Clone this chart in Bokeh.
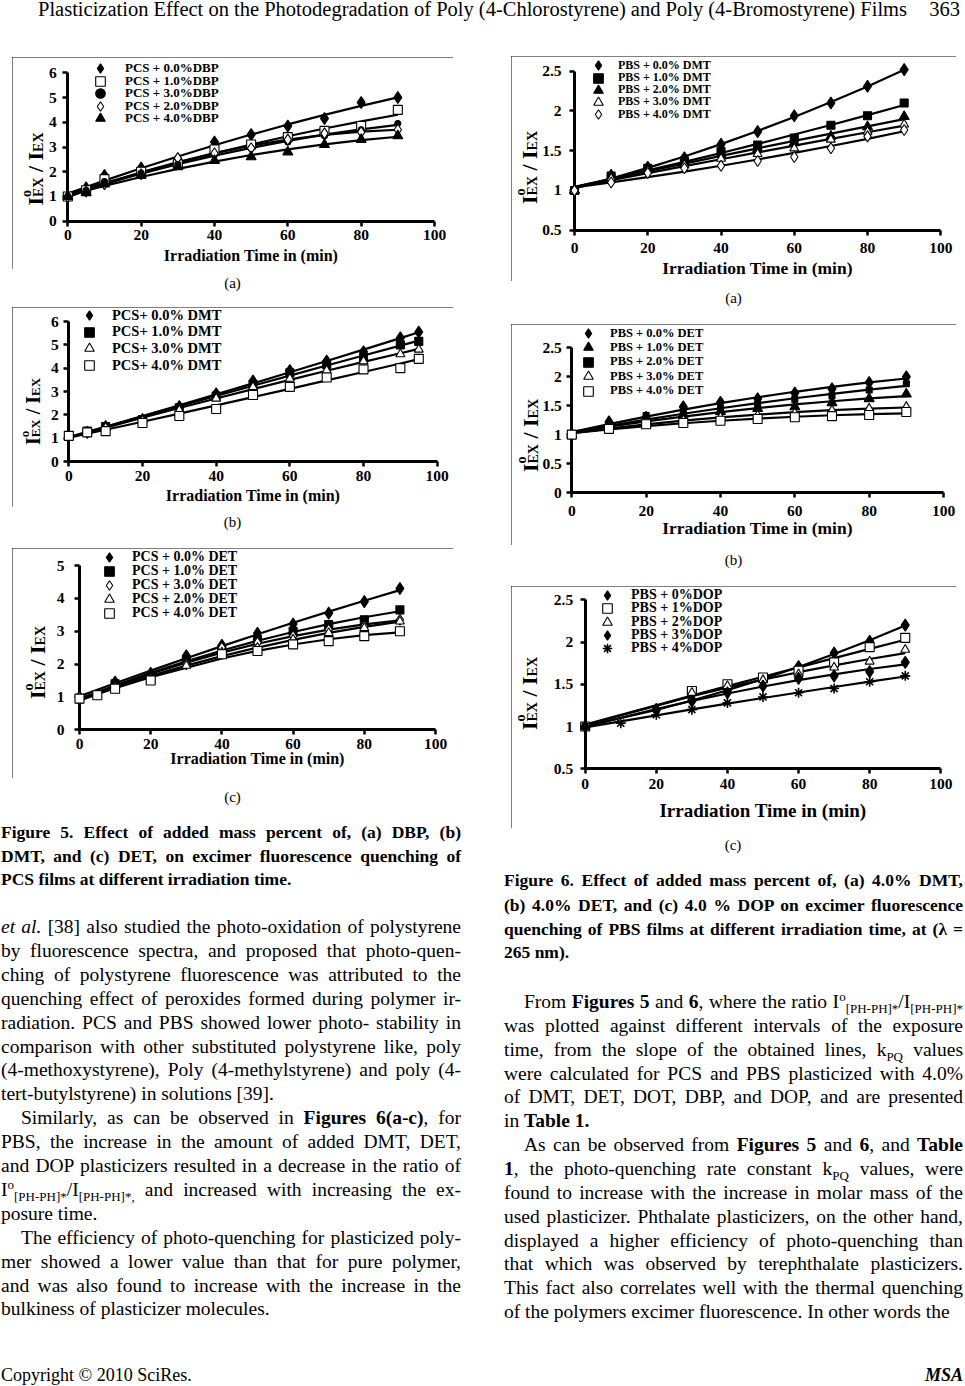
import numpy as np
from bokeh.plotting import figure
from bokeh.models import Div, Label, FixedTicker, Legend, LegendItem
from bokeh.layouts import column, row
from bokeh.embed import file_html
from bokeh.resources import INLINE

FONT = "Liberation Serif"

# ------------------------------------------------------------------ data
# Figure 5(a): PCS + DBP
T_5A = [0, 5, 10, 20, 30, 40, 50, 60, 70, 80, 90]
PCS_DBP_0 = [1.0, 1.35, 1.85, 2.15, 2.5, 3.2, 3.5, 3.85, 4.15, 4.8, 5.0]
PCS_DBP_1 = [1.0, 1.25, 1.7, 2.0, 2.3, 2.9, 3.1, 3.4, 3.65, 3.85, 4.5]
PCS_DBP_3 = [1.0, 1.25, 1.6, 1.95, 2.3, 2.7, 2.95, 3.2, 3.45, 3.7, 3.95]
PCS_DBP_2 = [1.0, 1.2, 1.5, 1.9, 2.55, 2.75, 2.95, 3.3, 3.55, 3.6, 3.7]
PCS_DBP_4 = [1.0, 1.15, 1.5, 1.85, 2.2, 2.45, 2.6, 2.8, 3.1, 3.3, 3.45]
LABELS_5A = ["PCS + 0.0%DBP", "PCS + 1.0%DBP", "PCS + 3.0%DBP", "PCS + 2.0%DBP", "PCS + 4.0%DBP"]

# Figure 5(b): PCS + DMT
T_5B = [0, 5, 10, 20, 30, 40, 50, 60, 70, 80, 90, 95]
PCS_DMT_0 = [1.1, 1.25, 1.5, 1.8, 2.35, 2.9, 3.45, 3.9, 4.3, 4.7, 5.3, 5.55]
PCS_DMT_1 = [1.1, 1.3, 1.5, 1.8, 2.3, 2.8, 3.3, 3.8, 4.15, 4.45, 5.0, 5.15]
PCS_DMT_3 = [1.1, 1.25, 1.45, 1.75, 2.2, 2.7, 3.2, 3.55, 3.9, 4.3, 4.6, 4.8]
PCS_DMT_4 = [1.1, 1.25, 1.3, 1.65, 1.95, 2.25, 2.85, 3.2, 3.6, 3.95, 4.0, 4.4]
LABELS_5B = ["PCS+ 0.0% DMT", "PCS+ 1.0% DMT", "PCS+ 3.0% DMT", "PCS+ 4.0% DMT"]

# Figure 5(c): PCS + DET
T_5C = [0, 10, 20, 30, 40, 50, 60, 70, 80, 90]
T_5C_4 = [0, 5, 10, 20, 40, 50, 60, 70, 80, 90]
PCS_DET_0 = [1.0, 1.45, 1.72, 2.25, 2.57, 2.94, 3.22, 3.55, 3.9, 4.3]
PCS_DET_1 = [0.95, 1.4, 1.6, 2.1, 2.45, 2.75, 3.0, 3.2, 3.35, 3.65]
PCS_DET_3 = [1.0, 1.3, 1.55, 2.0, 2.5, 2.65, 2.85, 3.05, 3.15, 3.35]
PCS_DET_2 = [1.0, 1.3, 1.5, 1.95, 2.35, 2.5, 2.75, 2.95, 3.1, 3.3]
PCS_DET_4 = [0.95, 1.05, 1.25, 1.5, 2.3, 2.4, 2.6, 2.7, 2.85, 3.0]
LABELS_5C = ["PCS + 0.0% DET", "PCS + 1.0% DET", "PCS + 3.0% DET", "PCS + 2.0% DET", "PCS + 4.0% DET"]

# Figure 6(a): PBS + DMT
T_6 = [0, 10, 20, 30, 40, 50, 60, 70, 80, 90]
PBS_DMT_0 = [1.0, 1.19, 1.29, 1.41, 1.58, 1.74, 1.94, 2.1, 2.31, 2.52]
PBS_DMT_1 = [1.0, 1.18, 1.28, 1.37, 1.49, 1.57, 1.66, 1.82, 1.94, 2.1]
PBS_DMT_2 = [1.0, 1.17, 1.27, 1.35, 1.45, 1.52, 1.6, 1.68, 1.8, 1.93]
PBS_DMT_3 = [1.0, 1.15, 1.25, 1.32, 1.4, 1.46, 1.53, 1.64, 1.74, 1.83]
PBS_DMT_4 = [1.0, 1.1, 1.22, 1.28, 1.31, 1.37, 1.42, 1.53, 1.68, 1.76]
LABELS_6A = ["PBS + 0.0% DMT", "PBS + 1.0% DMT", "PBS + 2.0% DMT", "PBS + 3.0% DMT", "PBS + 4.0% DMT"]

# Figure 6(b): PBS + DET
PBS_DET_0 = [1.0, 1.22, 1.3, 1.48, 1.56, 1.62, 1.72, 1.79, 1.9, 2.0]
PBS_DET_1 = [1.0, 1.15, 1.25, 1.35, 1.4, 1.45, 1.48, 1.55, 1.62, 1.7]
PBS_DET_2 = [1.0, 1.15, 1.33, 1.39, 1.45, 1.52, 1.61, 1.67, 1.77, 1.88]
PBS_DET_3 = [1.0, 1.12, 1.2, 1.25, 1.3, 1.33, 1.37, 1.42, 1.45, 1.48]
PBS_DET_4 = [1.0, 1.1, 1.18, 1.2, 1.24, 1.27, 1.3, 1.32, 1.34, 1.39]
LABELS_6B = ["PBS + 0.0% DET", "PBS + 1.0% DET", "PBS + 2.0% DET", "PBS + 3.0% DET", "PBS + 4.0% DET"]

# Figure 6(c): PBS + DOP
T_6C_0 = [0, 20, 30, 40, 50, 60, 70, 80, 90]
T_6C_1 = [0, 30, 40, 50, 60, 70, 80, 90]
T_6C_4 = [0, 10, 20, 30, 40, 50, 60, 70, 80, 90]
PBS_DOP_0 = [1.0, 1.2, 1.32, 1.42, 1.55, 1.71, 1.87, 2.01, 2.2]
PBS_DOP_1 = [1.0, 1.42, 1.5, 1.58, 1.66, 1.76, 1.94, 2.05]
PBS_DOP_2 = [1.0, 1.4, 1.48, 1.55, 1.62, 1.7, 1.77, 1.91]
PBS_DOP_3 = [1.0, 1.2, 1.3, 1.4, 1.48, 1.57, 1.6, 1.65, 1.76]
PBS_DOP_4 = [1.0, 1.04, 1.14, 1.2, 1.28, 1.35, 1.4, 1.45, 1.53, 1.6]
LABELS_6C = ["PBS + 0%DOP", "PBS + 1%DOP", "PBS + 2%DOP", "PBS + 3%DOP", "PBS + 4%DOP"]

X_TICKS = [0, 20, 40, 60, 80, 100]
Y_TICKS_6 = [0, 1, 2, 3, 4, 5, 6]
Y_TICKS_5 = [0, 1, 2, 3, 4, 5]
Y_TICKS_05 = [0.5, 1.0, 1.5, 2.0, 2.5]
Y_LABELS_05 = ["0.5", "1", "1.5", "2", "2.5"]
Y_TICKS_0 = [0.0, 0.5, 1.0, 1.5, 2.0, 2.5]
Y_LABELS_0 = ["0", "0.5", "1", "1.5", "2", "2.5"]
X_TITLE = "Irradiation Time in (min)"

# ------------------------------------------------------------------ text
HEADER_TITLE = "Plasticization Effect on the Photodegradation of Poly (4-Chlorostyrene) and Poly (4-Bromostyrene) Films"
PAGE_NO = "363"
FOOTER_LEFT = "Copyright © 2010 SciRes."
FOOTER_RIGHT = "MSA"

SS = "font-size:13px;line-height:0;"
I_RATIO = ('I<sup style="%s">o</sup><sub style="%s">[PH-PH]*</sub>/I<sub style="%s">[PH-PH]*</sub>' % (SS, SS, SS))
I_RATIO_C = ('I<sup style="%s">o</sup><sub style="%s">[PH-PH]*</sub>/I<sub style="%s">[PH-PH]*,</sub>' % (SS, SS, SS))
K_PQ = 'k<sub style="%s">PQ</sub>' % SS

CAPTION_5 = [
    "Figure 5. Effect of added mass percent of, (a) DBP, (b)",
    "DMT, and (c) DET, on excimer fluorescence quenching of",
    "PCS films at different irradiation time.",
]
LEFT_PARAS = [
    ["<i>et al.</i> [38] also studied the photo-oxidation of polystyrene",
     "by fluorescence spectra, and proposed that photo-quen-",
     "ching of polystyrene fluorescence was attributed to the",
     "quenching effect of peroxides formed during polymer ir-",
     "radiation. PCS and PBS showed lower photo- stability in",
     "comparison with other substituted polystyrene like, poly",
     "(4-methoxystyrene), Poly (4-methylstyrene) and poly (4-",
     "tert-butylstyrene) in solutions [39]."],
    ["Similarly, as can be observed in <b>Figures 6(a-c)</b>, for",
     "PBS, the increase in the amount of added DMT, DET,",
     "and DOP plasticizers resulted in a decrease in the ratio of",
     I_RATIO_C + " and increased with increasing the ex-",
     "posure time."],
    ["The efficiency of photo-quenching for plasticized poly-",
     "mer showed a lower value than that for pure polymer,",
     "and was also found to increase with the increase in the",
     "bulkiness of plasticizer molecules."],
]
CAPTION_6 = [
    "Figure 6. Effect of added mass percent of, (a) 4.0% DMT,",
    "(b) 4.0% DET, and (c) 4.0 % DOP on excimer fluorescence",
    "quenching of PBS films at different irradiation time, at (&lambda; =",
    "265 nm).",
]
RIGHT_PARAS = [
    ["From <b>Figures 5</b> and <b>6</b>, where the ratio " + I_RATIO,
     "was plotted against different intervals of the exposure",
     "time, from the slope of the obtained lines, " + K_PQ + " values",
     "were calculated for PCS and PBS plasticized with 4.0%",
     "of DMT, DET, DOT, DBP, and DOP, and are presented",
     "in <b>Table 1.</b>"],
    ["As can be observed from <b>Figures 5</b> and <b>6</b>, and <b>Table</b>",
     "<b>1</b>, the photo-quenching rate constant " + K_PQ + " values, were",
     "found to increase with the increase in molar mass of the",
     "used plasticizer. Phthalate plasticizers, on the other hand,",
     "displayed a higher efficiency of photo-quenching than",
     "that which was observed by terephthalate plasticizers.",
     "This fact also correlates well with the thermal quenching",
     "of the polymers excimer fluorescence. In other words the"],
]

# ------------------------------------------------------------------ styles
MARKERS = {
    "fdiam": dict(marker="diamond", size=12, fill_color="black"),
    "odiam": dict(marker="diamond", size=11, fill_color="white"),
    "osq": dict(marker="square", size=9, fill_color="white"),
    "fsq": dict(marker="square", size=8, fill_color="black"),
    "ssq": dict(marker="square", size=6, fill_color="black"),
    "ftri": dict(marker="triangle", size=10, fill_color="black"),
    "otri": dict(marker="triangle", size=9, fill_color="white"),
    "fcirc": dict(marker="circle", size=6, fill_color="black"),
    "ast": dict(marker="asterisk", size=10, fill_color="black"),
}


def make_chart(cfg):
    l, t, r, b = cfg["box"]
    fl, ft, fr, fb = cfg["frame"]
    y0, y1 = cfg["yrange"]
    W, H = round(r - l), round(b - t)

    def to_x(sx):
        return (sx - fl) / (fr - fl) * 100.0

    def to_y(sy):
        return y0 + (fb - sy) / (fb - ft) * (y1 - y0)

    p = figure(width=W, height=H, x_range=(to_x(l), to_x(l + W)), y_range=(to_y(t + H), to_y(t)),
               output_backend="svg", toolbar_location=None, title=None,
               min_border_left=0, min_border_right=0, min_border_top=0, min_border_bottom=0)
    p.styles = {"outline": "1px solid #000", "outline-offset": "-1px"}
    p.background_fill_color = "white"
    p.border_fill_color = "white"
    p.outline_line_color = None
    p.xgrid.visible = False
    p.ygrid.visible = False

    for ax in (p.xaxis[0], p.yaxis[0]):
        ax.axis_line_width = 3
        ax.axis_line_color = "black"
        ax.major_tick_line_width = 2.5
        ax.major_tick_line_color = "black"
        ax.major_tick_out = 5
        ax.major_tick_in = 0
        ax.minor_tick_out = 0
        ax.minor_tick_in = 0
        ax.major_label_text_font = FONT
        ax.major_label_text_font_style = "bold"
        ax.major_label_text_font_size = "15.5px"
        ax.major_label_text_color = "black"
    p.xaxis.fixed_location = y0
    p.yaxis.fixed_location = 0
    p.xaxis.bounds = (0, 100)
    p.yaxis.bounds = (y0, y1)
    p.xaxis.ticker = FixedTicker(ticks=X_TICKS)
    p.yaxis.ticker = FixedTicker(ticks=cfg["yticks"])
    if cfg.get("ylabels"):
        p.yaxis.major_label_overrides = {float(k): v for k, v in zip(cfg["yticks"], cfg["ylabels"])}
    p.xaxis.major_label_standoff = cfg["xs"]
    p.yaxis.major_label_standoff = cfg["ys"]
    p.xaxis.axis_label = X_TITLE
    p.xaxis.axis_label_text_font = FONT
    p.xaxis.axis_label_text_font_style = "bold"
    p.xaxis.axis_label_text_font_size = "%spx" % cfg["xtsize"]
    p.xaxis.axis_label_text_color = "black"
    p.xaxis.axis_label_standoff = cfg["xts"]

    # trend lines (quadratic fits of each series, evaluated at the measured times)
    for xs, ys, lab, mk in cfg["series"]:
        coef = np.polyfit(xs, ys, 2)
        p.line(xs, np.polyval(coef, xs), line_color="black", line_width=2.2)
    rends = []
    for xs, ys, lab, mk in cfg["series"]:
        st = dict(MARKERS[mk])
        lw = 1.6 if mk == "ast" else 1.1
        rends.append(p.scatter(xs, ys, level="overlay", line_color="black", line_width=lw, **st))

    # legend: one single-entry legend per row, so the rows can sit as tightly as in the original
    mx, tl, first, pitch, fsize, base = cfg["legend"]
    gh = 24
    for i, (rend, (xs, ys, lab, mk)) in enumerate(zip(rends, cfg["series"])):
        rc = first + i * pitch
        leg = Legend(items=[LegendItem(label=lab, renderers=[rend])],
                     location=(mx - gh / 2 - l, (t + H) - (rc + gh / 2)),
                     glyph_height=gh, glyph_width=gh, label_height=gh, spacing=0,
                     padding=0, margin=0, label_standoff=int(round(tl - mx - gh / 2)),
                     border_line_color=None, background_fill_alpha=0,
                     label_text_font=FONT, label_text_font_style="bold",
                     label_text_font_size="%spx" % fsize, label_text_baseline=base,
                     label_text_color="black")
        p.add_layout(leg)

    # y-axis title  I°EX / IEX  (superscript and subscripts as separate texts)
    big, small = cfg.get("ytsize", (22, 14))
    cx, cy = cfg["ytitle"]
    sxb = cx + 0.331 * big - 1
    wI, wEX, wsep = 0.389 * big, 1.389 * small, 0.778 * big
    total = 2 * wI + 2 * wEX + wsep
    s = cy + total / 2
    pieces = [
        ("I", big, sxb, s),
        ("o", small, sxb - 0.42 * big, s - wI),
        ("EX", small, sxb + 0.14 * big, s - wI),
        ("/", big, sxb, s - wI - wEX - 0.25 * big),
        ("I", big, sxb, s - wI - wEX - wsep),
        ("EX", small, sxb + 0.14 * big, s - 2 * wI - wEX - wsep),
    ]
    for txt, size, sx, sy in pieces:
        p.add_layout(Label(x=to_x(sx), y=to_y(sy), text=txt, angle=np.pi / 2,
                           text_align="left", text_baseline="alphabetic",
                           text_font=FONT, text_font_style="bold",
                           text_font_size="%spx" % size, text_color="black"))
    return p


CFG_5A = dict(box=(12, 57, 453, 269), frame=(67.3, 72.3, 434, 220.7), yrange=(0, 6),
              yticks=Y_TICKS_6, ylabels=None,
              series=[(T_5A, PCS_DBP_0, LABELS_5A[0], "fdiam"), (T_5A, PCS_DBP_1, LABELS_5A[1], "osq"),
                      (T_5A, PCS_DBP_3, LABELS_5A[2], "fcirc"), (T_5A, PCS_DBP_2, LABELS_5A[3], "odiam"),
                      (T_5A, PCS_DBP_4, LABELS_5A[4], "ftri")],
              legend=(100, 125, 68.3, 12.5, 13, "middle"), ytitle=(29, 168.5),
              xs=4, xts=3, xtsize=16, ys=6)
CFG_5B = dict(box=(12, 307, 453, 507), frame=(68.3, 321, 436.7, 461), yrange=(0, 6),
              yticks=Y_TICKS_6, ylabels=None,
              series=[(T_5B, PCS_DMT_0, LABELS_5B[0], "fdiam"), (T_5B, PCS_DMT_1, LABELS_5B[1], "fsq"),
                      (T_5B, PCS_DMT_3, LABELS_5B[2], "otri"), (T_5B, PCS_DMT_4, LABELS_5B[3], "osq")],
              legend=(89, 111.7, 315, 16.7, 14.5, "middle"), ytitle=(27, 411), ytsize=(20, 13),
              xs=4, xts=3, xtsize=16, ys=5)
CFG_5C = dict(box=(12, 548, 453, 778), frame=(79, 565, 435, 729.3), yrange=(0, 5),
              yticks=Y_TICKS_5, ylabels=None,
              series=[(T_5C, PCS_DET_0, LABELS_5C[0], "fdiam"), (T_5C, PCS_DET_1, LABELS_5C[1], "fsq"),
                      (T_5C, PCS_DET_3, LABELS_5C[2], "odiam"), (T_5C, PCS_DET_2, LABELS_5C[3], "otri"),
                      (T_5C_4, PCS_DET_4, LABELS_5C[4], "osq")],
              legend=(109, 131.7, 557.3, 14, 14, "middle"), ytitle=(31, 662),
              xs=4, xts=-2, xtsize=16, ys=10)
CFG_6A = dict(box=(511, 56, 956, 281), frame=(574, 70.7, 940.3, 229.7), yrange=(0.5, 2.5),
              yticks=Y_TICKS_05, ylabels=Y_LABELS_05,
              series=[(T_6, PBS_DMT_0, LABELS_6A[0], "fdiam"), (T_6, PBS_DMT_1, LABELS_6A[1], "fsq"),
                      (T_6, PBS_DMT_2, LABELS_6A[2], "ftri"), (T_6, PBS_DMT_3, LABELS_6A[3], "otri"),
                      (T_6, PBS_DMT_4, LABELS_6A[4], "odiam")],
              legend=(598, 618, 65.3, 12.2, 12, "middle"), ytitle=(522.5, 167),
              xs=8, xts=1, xtsize=17.5, ys=8)
CFG_6B = dict(box=(511, 324, 956, 545), frame=(571.3, 347.3, 943, 492), yrange=(0, 2.5),
              yticks=Y_TICKS_0, ylabels=Y_LABELS_0,
              series=[(T_6, PBS_DET_0, LABELS_6B[0], "fdiam"), (T_6, PBS_DET_1, LABELS_6B[1], "ftri"),
                      (T_6, PBS_DET_2, LABELS_6B[2], "ssq"), (T_6, PBS_DET_3, LABELS_6B[3], "otri"),
                      (T_6, PBS_DET_4, LABELS_6B[4], "osq")],
              legend=(588, 609.7, 333, 14.4, 12.5, "middle"), ytitle=(523.5, 435),
              xs=8, xts=-1, xtsize=17.5, ys=5)
CFG_6C = dict(box=(511, 586, 956, 828), frame=(584.7, 599.3, 940.3, 768.3), yrange=(0.5, 2.5),
              yticks=Y_TICKS_05, ylabels=Y_LABELS_05,
              series=[(T_6C_0, PBS_DOP_0, LABELS_6C[0], "fdiam"), (T_6C_1, PBS_DOP_1, LABELS_6C[1], "osq"),
                      (T_6C_1, PBS_DOP_2, LABELS_6C[2], "otri"), (T_6C_0, PBS_DOP_3, LABELS_6C[3], "fdiam"),
                      (T_6C_4, PBS_DOP_4, LABELS_6C[4], "ast")],
              legend=(607, 631.3, 595, 13.3, 14, "top"), ytitle=(522.5, 693),
              xs=5, xts=8, xtsize=19, ys=7)


# ------------------------------------------------------------------ text helpers
def text_line(top, left, width, html, align, size, weight="normal", style="normal", lh=24):
    return ('<div style="position:absolute;left:%spx;top:%.1fpx;width:%spx;height:%spx;line-height:%spx;'
            'font-size:%spx;font-weight:%s;font-style:%s;text-align:%s;text-align-last:%s;">%s</div>'
            % (left, top, width, lh, lh, size, weight, style, align, align, html))


def block(width, height, lines, margin):
    html = ('<div style="position:relative;width:%spx;height:%spx;font-family:\'%s\',serif;color:#000;">%s</div>'
            % (width, height, FONT, "".join(lines)))
    return Div(text=html, width=width, height=height, margin=margin)


def para_lines(paras, indents, y_first, pitch, block_top, width, size=19.5):
    out, i = [], 0
    for para, ind in zip(paras, indents):
        for li, txt in enumerate(para):
            c = y_first + i * pitch - block_top
            indent = 20 if (li == 0 and ind) else 0
            align = "left" if li == len(para) - 1 else "justify"
            out.append(text_line(c - 12, indent, width - indent, txt, align, size))
            i += 1
    return out


def caption_lines(lines, centers, block_top, width, size=17.5):
    out = []
    for k, (txt, c) in enumerate(zip(lines, centers)):
        align = "left" if k == len(lines) - 1 else "justify"
        out.append(text_line(c - block_top - 12, 0, width, txt, align, size, weight="bold"))
    return out


def sub_label(txt, width, height, center, margin):
    return block(width, height, [text_line(center - 9, 0, width, txt, "center", 15, lh=18)], margin)


# ------------------------------------------------------------------ build
f5a, f5b, f5c = make_chart(CFG_5A), make_chart(CFG_5B), make_chart(CFG_5C)
f6a, f6b, f6c = make_chart(CFG_6A), make_chart(CFG_6B), make_chart(CFG_6C)
f5a.margin = (9, 0, 0, 12)
f5b.margin = (0, 0, 0, 12)
f5c.margin = (0, 0, 0, 12)
f6a.margin = (8, 0, 0, 50)
f6b.margin = (0, 0, 0, 50)
f6c.margin = (0, 0, 0, 50)

header = block(965, 48, [
    text_line(0, 38, 880, HEADER_TITLE, "left", 20.5, lh=19),
    text_line(0, 860, 100, PAGE_NO, "right", 20.5, lh=19),
], (0, 0, 0, 0))

LW, RW = 460, 459
left_top = 778
left_items = [text_line(797 - left_top - 9, 11, 441, "(c)", "center", 15, lh=18)]
left_items += caption_lines(CAPTION_5, [832, 855.5, 879], left_top, LW)
left_items += para_lines(LEFT_PARAS, [False, True, True], 927, 23.9, left_top, LW)
left_items.append(text_line(1375 - left_top - 9, 0, 300, FOOTER_LEFT, "left", 18, lh=18))
left_text = block(LW, 606, left_items, (0, 0, 0, 1))

right_top = 828
right_items = [text_line(845 - right_top - 9, 129, 200, "(c)", "center", 15, lh=18)]
right_items += caption_lines(CAPTION_6, [880, 904.5, 928.5, 952], right_top, RW)
right_items += para_lines(RIGHT_PARAS, [True, True], 1002, 23.85, right_top, RW)
right_items.append(text_line(1375 - right_top - 9, RW - 100, 100,
                             "<b><i>%s</i></b>" % FOOTER_RIGHT, "right", 18, lh=18))
right_text = block(RW, 556, right_items, (0, 0, 0, 43))

left_col = column(
    f5a, sub_label("(a)", 441, 38, 14, (0, 0, 0, 12)),
    f5b, sub_label("(b)", 441, 41, 15, (0, 0, 0, 12)),
    f5c, left_text, spacing=0)
right_col = column(
    f6a, sub_label("(a)", 445, 43, 17, (0, 0, 0, 50)),
    f6b, sub_label("(b)", 445, 41, 15, (0, 0, 0, 50)),
    f6c, right_text, spacing=0)

root = column(header, row(left_col, right_col, spacing=0), spacing=0)

open("out.html", "w").write(file_html(root, INLINE))
